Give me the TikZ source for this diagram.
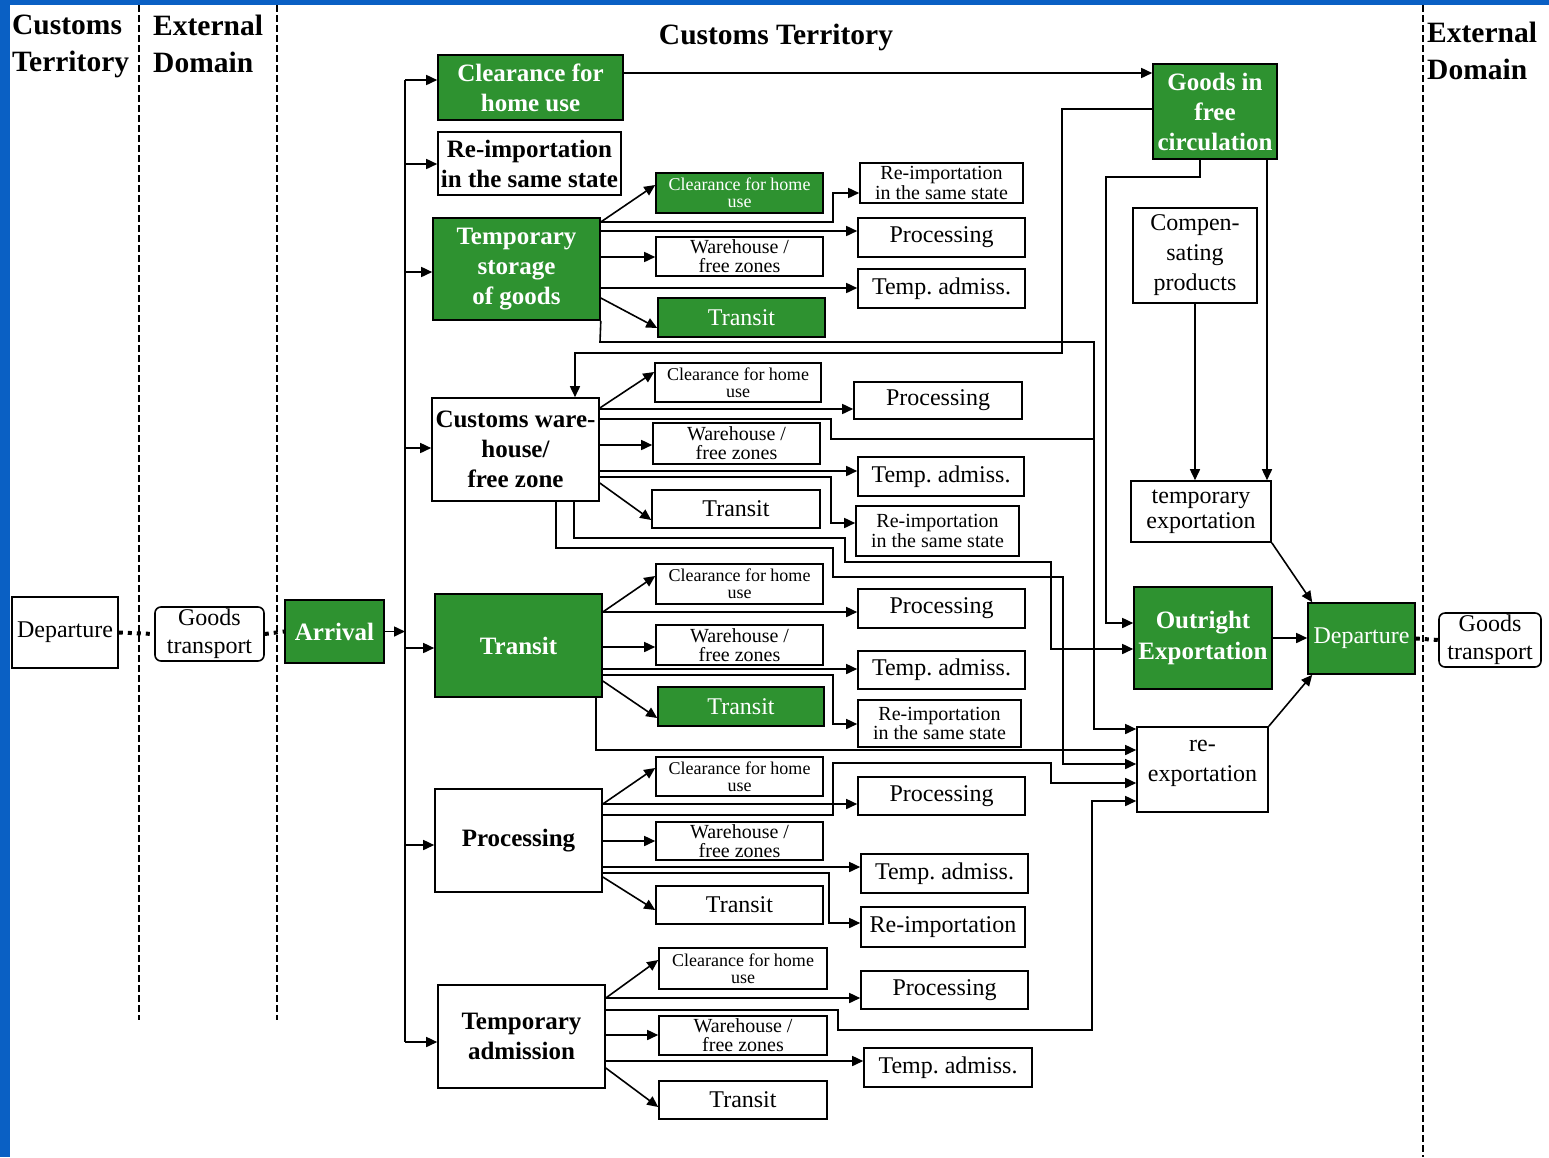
\documentclass[tikz,border=0pt]{standalone}
\usepackage{fontspec}
\setmainfont{Liberation Serif}
\usetikzlibrary{arrows.meta}
\definecolor{grn}{RGB}{46,146,48}
\definecolor{bordblue}{RGB}{10,96,196}
\newcommand\mybox[7]{\node[#1,minimum width={#5-#3},minimum height={#6-#4}] (#2) at ({(#3+#5)/2},{(#4+#6)/2}) {#7};}
\begin{document}
\begin{tikzpicture}[x=1pt,y=-1pt,
  wbox/.style={draw=black,line width=1.6pt,fill=white,inner sep=0pt,align=center},
  gbox/.style={wbox,fill=grn,text=white},
  rbox/.style={wbox,rounded corners=6pt},
  mainf/.style={font=\fontsize{25}{30}\selectfont\bfseries},
  subf/.style={font=\fontsize{24}{28}\selectfont},
  smallf/.style={font=\fontsize{18}{17}\selectfont},
  wzf/.style={font=\fontsize{20}{19}\selectfont},
  rif/.style={font=\fontsize{20}{18}\selectfont},
  hdr/.style={font=\fontsize{29.5}{37}\selectfont\bfseries,align=left,inner sep=0pt},
  conn/.style={line width=1.6pt},
  arr/.style={conn,-{Triangle[length=11pt,width=10pt]}},
  dots/.style={line width=4pt,dash pattern=on 4pt off 5pt},
  sepline/.style={line width=1.5pt,dash pattern=on 7pt off 3pt}]
\path[use as bounding box] (0,0) rectangle (1549,1157);
\fill[white] (0,0) rectangle (1549,1157);
\fill[bordblue] (0,0) rectangle (1549,5);
\fill[bordblue] (0,0) rectangle (10,1157);
% domain separators
\draw[sepline] (139,5) -- (139,1020);
\draw[sepline] (277,5) -- (277,1020);
\draw[sepline] (1423,5) -- (1423,1157);
% headers
\node[hdr,anchor=north west] (h1) at (12,15) {Customs\\Territory};
\node[hdr,anchor=north west] (h2) at (153,15) {External\\Domain};
\node[hdr,anchor=base] (h3) at (776,44) {Customs Territory};
\node[hdr,anchor=north west] (h4) at (1427,22) {External\\Domain};
% left side
\mybox{wbox,subf}{depL}{12}{597}{118}{668}{Departure}
\mybox{rbox,subf}{gtL}{155}{607}{264}{661}{Goods\\transport}
\mybox{gbox,mainf}{arv}{285}{600}{384}{663}{Arrival}
% main column
\mybox{gbox,mainf}{chu}{438}{55}{623}{120}{Clearance for\\home use}
\mybox{wbox,mainf}{rim}{438}{132}{621}{195}{Re-importation\\in the same state}
\mybox{gbox,mainf}{ts}{433}{218}{600}{320}{Temporary\\storage\\of goods}
\mybox{wbox,mainf}{cw}{432}{398}{599}{501}{Customs ware-\\house/\\free zone}
\mybox{gbox,mainf}{tr}{435}{594}{602}{697}{Transit}
\mybox{wbox,mainf}{pr}{435}{789}{602}{892}{Processing}
\mybox{wbox,mainf}{ta}{438}{985}{605}{1088}{Temporary\\admission}
% right side
\mybox{gbox,mainf}{gifc}{1153}{64}{1277}{159}{Goods in\\free\\circulation}
\mybox{wbox,font=\fontsize{24}{30}\selectfont}{comp}{1133}{208}{1257}{303}{Compen-\\sating\\products}
\mybox{wbox,font=\fontsize{24}{25}\selectfont}{tex}{1131}{481}{1271}{542}{temporary\\exportation}
\mybox{gbox,font=\fontsize{25}{31}\selectfont\bfseries}{oe}{1134}{587}{1272}{689}{Outright\\Exportation}
\mybox{gbox,subf}{depR}{1308}{603}{1415}{674}{Departure}
\mybox{rbox,subf}{gtR}{1439}{613}{1541}{667}{Goods\\transport}
\mybox{wbox,font=\fontsize{24}{30}\selectfont}{rex}{1137}{727}{1268}{812}{\raisebox{3pt}[0pt][0pt]{\begin{tabular}{@{}c@{}}re-\\exportation\end{tabular}}}
% group 1 (temporary storage)
\mybox{gbox,smallf}{a1c}{656}{173}{823}{213}{Clearance for home\\use}
\mybox{wbox,wzf}{a1w}{656}{237}{823}{276}{Warehouse /\\free zones}
\mybox{gbox,subf}{a1t}{658}{298}{825}{337}{Transit}
\mybox{wbox,rif}{a1r}{860}{163}{1023}{203}{Re-importation\\in the same state}
\mybox{wbox,subf}{a1p}{858}{218}{1025}{257}{Processing}
\mybox{wbox,subf}{a1a}{858}{269}{1025}{308}{Temp.\ admiss.}
% group 2 (customs warehouse)
\mybox{wbox,smallf}{b2c}{655}{363}{821}{402}{Clearance for home\\use}
\mybox{wbox,subf}{b2p}{854}{382}{1022}{419}{Processing}
\mybox{wbox,wzf}{b2w}{653}{423}{820}{464}{Warehouse /\\free zones}
\mybox{wbox,subf}{b2a}{858}{457}{1024}{496}{Temp.\ admiss.}
\mybox{wbox,subf}{b2t}{652}{490}{820}{528}{Transit}
\mybox{wbox,rif}{b2r}{856}{506}{1019}{556}{Re-importation\\in the same state}
% group 3 (transit)
\mybox{wbox,smallf}{c3c}{656}{564}{823}{604}{Clearance for home\\use}
\mybox{wbox,subf}{c3p}{858}{589}{1025}{628}{Processing}
\mybox{wbox,wzf}{c3w}{656}{625}{823}{665}{Warehouse /\\free zones}
\mybox{wbox,subf}{c3a}{858}{651}{1025}{689}{Temp.\ admiss.}
\mybox{gbox,subf}{c3t}{658}{687}{824}{726}{Transit}
\mybox{wbox,rif}{c3r}{858}{700}{1021}{747}{Re-importation\\in the same state}
% group 4 (processing)
\mybox{wbox,smallf}{d4c}{656}{757}{823}{796}{Clearance for home\\use}
\mybox{wbox,subf}{d4p}{858}{777}{1025}{815}{Processing}
\mybox{wbox,wzf}{d4w}{656}{822}{823}{860}{Warehouse /\\free zones}
\mybox{wbox,subf}{d4a}{861}{854}{1028}{893}{Temp.\ admiss.}
\mybox{wbox,subf}{d4t}{656}{886}{823}{924}{Transit}
\mybox{wbox,subf}{d4r}{861}{907}{1025}{947}{Re-importation}
% group 5 (temporary admission)
\mybox{wbox,smallf}{e5c}{659}{948}{827}{989}{Clearance for home\\use}
\mybox{wbox,subf}{e5p}{861}{971}{1028}{1009}{Processing}
\mybox{wbox,wzf}{e5w}{659}{1016}{827}{1055}{Warehouse /\\free zones}
\mybox{wbox,subf}{e5a}{864}{1048}{1032}{1087}{Temp.\ admiss.}
\mybox{wbox,subf}{e5t}{659}{1081}{827}{1119}{Transit}

% ---------- connectors ----------
\draw[dots] (depL.east) -- (gtL.west);
\draw[dots] (gtL.east) -- (arv.west);
\draw[dots] (depR.east) -- (gtR.west);
\coordinate (bus) at (405,0);
\draw[arr] (arv.east) -- (arv.east -| bus);
\draw[conn] (bus |- 0,80) -- (bus |- 0,1042);
\draw[arr] (bus |- 0,80) -- (chu.west |- 0,80);
\draw[arr] (bus |- 0,164) -- (rim.west |- 0,164);
\draw[arr] (bus |- 0,272) -- (ts.west |- 0,272);
\draw[arr] (bus |- 0,448) -- (cw.west |- 0,448);
\draw[arr] (bus |- 0,648) -- (tr.west |- 0,648);
\draw[arr] (bus |- 0,845) -- (pr.west |- 0,845);
\draw[arr] (bus |- 0,1042) -- (ta.west |- 0,1042);
% top level
\draw[arr] (chu.east |- 0,73) -- (gifc.west |- 0,73);
\draw[arr] (gifc.west |- 0,109) -- (1062,109) -- (1062,353) -- (575,353) -- (cw.north -| 575,0);
\draw[arr] (gifc.south -| 1200,0) -- (1200,177) -- (1106,177) -- (1106,623) -- (oe.west |- 0,623);
\draw[arr] (gifc.south -| 1267,0) -- (tex.north -| 1267,0);
\draw[arr] (comp.south) -- (tex.north -| comp.south);
\draw[arr] (tex.south east) -- ([xshift=5pt]depR.north west);
\draw[arr] (oe.east |- 0,638) -- (depR.west |- 0,638);
\draw[arr] (rex.north east) -- ([xshift=5pt]depR.south west);
% group 1
\draw[arr] (ts.east |- 0,222) -- (a1c.west |- 0,185);
\draw[arr] (ts.east |- 0,222) -- (833,222) -- (833,193) -- (a1r.west |- 0,193);
\draw[arr] (ts.east |- 0,231) -- (a1p.west |- 0,231);
\draw[arr] (ts.east |- 0,257) -- (a1w.west |- 0,257);
\draw[arr] (ts.east |- 0,288) -- (a1a.west |- 0,288);
\draw[arr] (ts.east |- 0,298) -- (a1t.west |- 0,328);
\draw[arr] (ts.south east) -- (600,342) -- (1094,342) -- (1094,729) -- (rex.west |- 0,729);
% group 2
\draw[arr] (cw.east |- 0,408) -- (b2c.west |- 0,372);
\draw[arr] (cw.east |- 0,409) -- (b2p.west |- 0,409);
\draw[conn] (cw.east |- 0,419) -- (831,419) -- (831,439) -- (1094,439);
\draw[arr] (cw.east |- 0,445) -- (b2w.west |- 0,445);
\draw[arr] (cw.east |- 0,471) -- (b2a.west |- 0,471);
\draw[arr] (cw.east |- 0,477) -- (831,477) -- (831,523) -- (b2r.west |- 0,523);
\draw[arr] (cw.east |- 0,483) -- (b2t.west |- 0,520);
\draw[arr] (cw.south -| 574,0) -- (574,538) -- (845,538) -- (845,562) -- (1051,562) -- (1051,649) -- (oe.west |- 0,649);
\draw[arr] (cw.south -| 556,0) -- (556,548) -- (833,548) -- (833,577) -- (1063,577) -- (1063,764) -- (rex.west |- 0,764);
% group 3
\draw[arr] (tr.east |- 0,612) -- (c3c.west |- 0,576);
\draw[arr] (tr.east |- 0,612) -- (c3p.west |- 0,612);
\draw[arr] (tr.east |- 0,647) -- (c3w.west |- 0,647);
\draw[arr] (tr.east |- 0,669) -- (c3a.west |- 0,669);
\draw[arr] (tr.east |- 0,675) -- (833,675) -- (833,724) -- (c3r.west |- 0,724);
\draw[arr] (tr.east |- 0,681) -- (c3t.west |- 0,718);
\draw[arr] (tr.south -| 596,0) -- (596,750) -- (rex.west |- 0,750);
% group 4
\draw[arr] (pr.east |- 0,804) -- (d4c.west |- 0,768);
\draw[arr] (pr.east |- 0,804) -- (d4p.west |- 0,804);
\draw[arr] (pr.east |- 0,815) -- (833,815) -- (833,763) -- (1051,763) -- (1051,783) -- (rex.west |- 0,783);
\draw[arr] (pr.east |- 0,841) -- (d4w.west |- 0,841);
\draw[arr] (pr.east |- 0,867) -- (d4a.west |- 0,867);
\draw[arr] (pr.east |- 0,873) -- (829,873) -- (829,923) -- (d4r.west |- 0,923);
\draw[arr] (pr.east |- 0,877) -- (d4t.west |- 0,910);
% group 5
\draw[arr] (ta.east |- 0,998) -- (e5c.west |- 0,960);
\draw[arr] (ta.east |- 0,998) -- (e5p.west |- 0,998);
\draw[arr] (ta.east |- 0,1010) -- (838,1010) -- (838,1030) -- (1092,1030) -- (1092,801) -- (rex.west |- 0,801);
\draw[arr] (ta.east |- 0,1035) -- (e5w.west |- 0,1035);
\draw[arr] (ta.east |- 0,1061) -- (e5a.west |- 0,1061);
\draw[arr] (ta.east |- 0,1068) -- (e5t.west |- 0,1107);
\end{tikzpicture}
\end{document}
